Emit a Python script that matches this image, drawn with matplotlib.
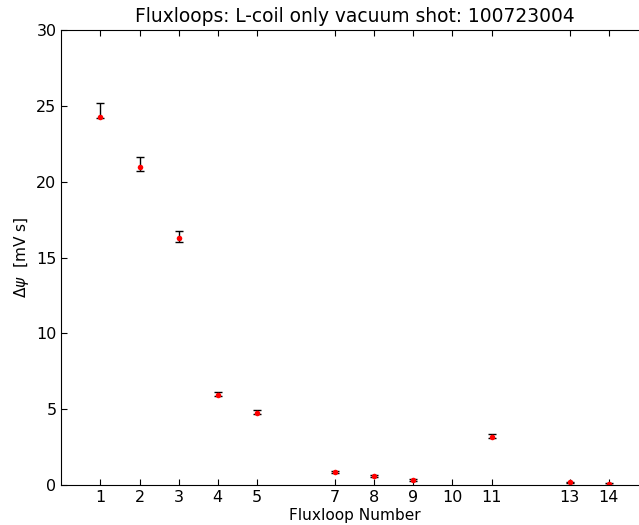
import matplotlib
matplotlib.use('Agg')
import matplotlib.pyplot as plt

loops = [1, 2, 3, 4, 5, 7, 8, 9, 11, 13, 14]
dpsi = [24.25, 20.98, 16.28, 5.95, 4.75, 0.85, 0.59, 0.33, 3.16, 0.17, 0.05]
err_lo = [0.05, 0.26, 0.28, 0.10, 0.05, 0.04, 0.04, 0.04, 0.05, 0.04, 0.04]
err_hi = [0.93, 0.62, 0.48, 0.18, 0.17, 0.06, 0.06, 0.06, 0.18, 0.06, 0.06]

xticks = [1, 2, 3, 4, 5, 7, 8, 9, 10, 11, 13, 14]

fig = plt.figure(figsize=(6.39, 5.25), dpi=100)
ax = fig.add_axes([61.3 / 639, 40 / 525, (648 - 61.3) / 639, 455 / 525])

ax.errorbar(loops, dpsi, yerr=[err_lo, err_hi], fmt='none', ecolor='black',
            elinewidth=1, capsize=3, capthick=1)
ax.plot(loops, dpsi, 'o', color='red', markersize=4, markeredgewidth=0)

ax.set_xlim(0, 15)
ax.set_ylim(0, 30)
ax.set_xticks(xticks)
ax.set_yticks([0, 5, 10, 15, 20, 25, 30])
ax.tick_params(direction='in', top=True, right=True, labelsize=11.5, length=4)

ax.set_title('Fluxloops: L-coil only vacuum shot: 100723004', fontsize=13.4)
ax.set_xlabel('Fluxloop Number', fontsize=11.1, labelpad=2)
ax.set_ylabel(r'$\Delta\psi$  [mV s]', fontsize=11.1)

fig.savefig('out.png', dpi=100)
